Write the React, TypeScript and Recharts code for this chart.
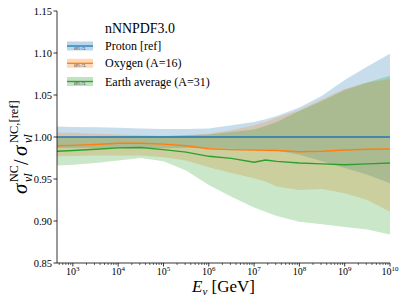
import { Area, ComposedChart, Legend, Line, XAxis, YAxis } from "recharts";

// log10(E_nu / GeV)
const logE = [2.65, 3, 3.5, 4, 4.5, 5, 5.5, 6, 6.5, 7, 7.25, 7.5, 8, 8.5, 9, 9.5, 10];

const protonMid = [1, 1, 1, 1, 1, 1, 1, 1, 1, 1, 1, 1, 1, 1, 1, 1, 1];
const protonLow = [0.987, 0.987, 0.987, 0.987, 0.987, 0.987, 0.987, 0.987, 0.986, 0.985, 0.985, 0.984, 0.979, 0.971, 0.963, 0.955, 0.945];
const protonHigh = [1.0125, 1.012, 1.0115, 1.011, 1.01, 1.0095, 1.0095, 1.01, 1.014, 1.018, 1.021, 1.025, 1.035, 1.049, 1.068, 1.084, 1.099];

const oxygenMid = [0.9895, 0.99, 0.991, 0.9925, 0.9925, 0.9915, 0.9895, 0.986, 0.985, 0.9845, 0.9843, 0.984, 0.9825, 0.983, 0.9845, 0.9855, 0.9857];
const oxygenLow = [0.977, 0.9775, 0.978, 0.978, 0.978, 0.976, 0.972, 0.964, 0.957, 0.951, 0.947, 0.941, 0.937, 0.938, 0.933, 0.925, 0.911];
const oxygenHigh = [1.0055, 1.005, 1.004, 1.003, 1.002, 1.0015, 1.002, 1.004, 1.008, 1.014, 1.018, 1.023, 1.032, 1.045, 1.057, 1.065, 1.069];

const earthMid = [0.983, 0.984, 0.9855, 0.987, 0.9875, 0.985, 0.982, 0.977, 0.9745, 0.97, 0.9726, 0.971, 0.969, 0.968, 0.967, 0.968, 0.969];
const earthLow = [0.966, 0.967, 0.969, 0.972, 0.975, 0.971, 0.96, 0.943, 0.929, 0.916, 0.911, 0.906, 0.899, 0.896, 0.893, 0.89, 0.884];
const earthHigh = [1, 1, 1, 1.0005, 1.001, 1.001, 1.002, 1.003, 1.006, 1.009, 1.013, 1.018, 1.031, 1.043, 1.056, 1.065, 1.073];

const seriesNames = ["Proton [ref]", "Oxygen (A=16)", "Earth average (A=31)"];
const seriesColors = ["#1f77b4", "#ff7f0e", "#2ca02c"];

const yTicks = [0.85, 0.9, 0.95, 1.0, 1.05, 1.1, 1.15];
const majorExps = [3, 4, 5, 6, 7, 8, 9, 10];
const minorMults = [2, 3, 4, 5, 6, 7, 8, 9];
const xDomain = [2.65, 10];

const data = logE.map((x, i) => ({
  x,
  proton: protonMid[i],
  protonBand: [protonLow[i], protonHigh[i]],
  oxygen: oxygenMid[i],
  oxygenBand: [oxygenLow[i], oxygenHigh[i]],
  earth: earthMid[i],
  earthBand: [earthLow[i], earthHigh[i]],
}));

const xTicks = [
  ...majorExps,
  ...[2, 3, 4, 5, 6, 7, 8, 9].flatMap((e) => minorMults.map((m) => e + Math.log10(m))),
].filter((t) => t >= xDomain[0] && t <= xDomain[1]);

const SERIF = "Liberation Serif";
const serif = { fontFamily: SERIF, fontWeight: 400 };

function XTick(props: any) {
  const { x, y, payload } = props;
  const v = payload.value as number;
  const major = Math.abs(v - Math.round(v)) < 1e-6;
  return (
    <g>
      <line x1={x} x2={x} y1={y} y2={y + (major ? 3.5 : 2)} stroke="#000" strokeWidth={major ? 0.8 : 0.6} />
      {major && (
        <text x={x} y={y + 12} textAnchor="middle" fontSize={10} style={serif} fill="#000">
          10
          <tspan dy={-4} fontSize={7}>
            {Math.round(v)}
          </tspan>
        </text>
      )}
    </g>
  );
}

function YTick(props: any) {
  const { x, y, payload } = props;
  return (
    <text x={x} y={y + 3.5} textAnchor="end" fontSize={10.5} style={serif} fill="#000">
      {(payload.value as number).toFixed(2)}
    </text>
  );
}

function YLabel() {
  return (
    <g transform="translate(27,141) rotate(-90)" style={serif} fill="#000">
      <text x={-53} y={0} fontSize={21} fontStyle="italic">σ</text>
      <text x={-41} y={-9} fontSize={12}>NC</text>
      <text x={-41} y={5} fontSize={11.5} fontStyle="italic">νI</text>
      <text x={-24} y={1} fontSize={20}>/</text>
      <text x={-15} y={0} fontSize={21} fontStyle="italic">σ</text>
      <text x={-2} y={-9} fontSize={12.5}>NC,[ref]</text>
      <text x={-2} y={5} fontSize={11.5} fontStyle="italic">νI</text>
    </g>
  );
}

function XLabel() {
  return (
    <text x={223.5} y={292} textAnchor="middle" fontSize={17} style={serif} fill="#000">
      <tspan fontStyle="italic">E</tspan>
      <tspan fontStyle="italic" fontSize={11} dy={3}>ν</tspan>
      <tspan dy={-3}> [GeV]</tspan>
    </text>
  );
}

function LegendBox() {
  const rows = [46, 63.3, 81.5];
  const ox = 60;
  const oy = 18;
  return (
    <svg width={180} height={80} style={{ display: "block" }}>
      <g transform={`translate(${-ox},${-oy})`} style={serif}>
        <text x={105} y={32.5} fontSize={14} fill="#000" style={serif} textLength={70} lengthAdjust="spacingAndGlyphs">
          nNNPDF3.0
        </text>
        {seriesNames.map((name, i) => (
          <g key={name}>
            <rect x={67} y={rows[i] - 4.5} width={26} height={9} fill={seriesColors[i]} fillOpacity={0.3} />
            <line x1={67} x2={93} y1={rows[i]} y2={rows[i]} stroke={seriesColors[i]} strokeWidth={1.3} />
            <text x={80} y={rows[i] + 3.6} fontSize={3.6} textAnchor="middle" fill="#333" style={serif}>
              68% CL
            </text>
            <text x={105} y={rows[i] + 4} fontSize={12} fill="#000" style={serif}>
              {name}
            </text>
          </g>
        ))}
      </g>
    </svg>
  );
}

export default function App() {
  return (
    <div style={{ position: "absolute", left: 0, top: 0, width: 407, height: 305, background: "#fff" }}>
      <ComposedChart
        width={407}
        height={305}
        data={data}
        margin={{ top: 11, right: 17, bottom: 12, left: 0 }}
      >
        <XAxis
          dataKey="x"
          type="number"
          domain={xDomain}
          ticks={xTicks}
          interval={0}
          allowDataOverflow
          height={30}
          tickSize={0}
          tickMargin={0}
          tickLine={false}
          tick={<XTick />}
          axisLine={{ stroke: "#000", strokeWidth: 0.8 }}
          label={<XLabel />}
        />
        <XAxis
          xAxisId="top"
          orientation="top"
          dataKey="x"
          type="number"
          domain={xDomain}
          height={0}
          tick={false}
          tickLine={false}
          axisLine={{ stroke: "#000", strokeWidth: 0.8 }}
        />
        <YAxis
          type="number"
          domain={[0.85, 1.15]}
          ticks={yTicks}
          interval={0}
          allowDataOverflow
          width={57}
          tickSize={3.5}
          tickMargin={1.5}
          tickLine={{ stroke: "#000", strokeWidth: 0.8 }}
          axisLine={{ stroke: "#000", strokeWidth: 0.8 }}
          tick={<YTick />}
          label={<YLabel />}
        />
        <YAxis
          yAxisId="right"
          orientation="right"
          domain={[0.85, 1.15]}
          width={0}
          tick={false}
          tickLine={false}
          axisLine={{ stroke: "#000", strokeWidth: 0.8 }}
        />
        <Area dataKey="protonBand" type="linear" fill={seriesColors[0]} fillOpacity={0.25} stroke="none" isAnimationActive={false} />
        <Area dataKey="oxygenBand" type="linear" fill={seriesColors[1]} fillOpacity={0.25} stroke="none" isAnimationActive={false} />
        <Area dataKey="earthBand" type="linear" fill={seriesColors[2]} fillOpacity={0.25} stroke="none" isAnimationActive={false} />
        <Line dataKey="proton" type="linear" stroke={seriesColors[0]} strokeWidth={1.4} dot={false} isAnimationActive={false} />
        <Line dataKey="oxygen" type="linear" stroke={seriesColors[1]} strokeWidth={1.4} dot={false} isAnimationActive={false} />
        <Line dataKey="earth" type="linear" stroke={seriesColors[2]} strokeWidth={1.4} dot={false} isAnimationActive={false} />
        <Legend
          layout="vertical"
          align="center"
          verticalAlign="middle"
          wrapperStyle={{ left: 60, top: 18, width: 180, height: 80 }}
          content={() => <LegendBox />}
        />
      </ComposedChart>
    </div>
  );
}
